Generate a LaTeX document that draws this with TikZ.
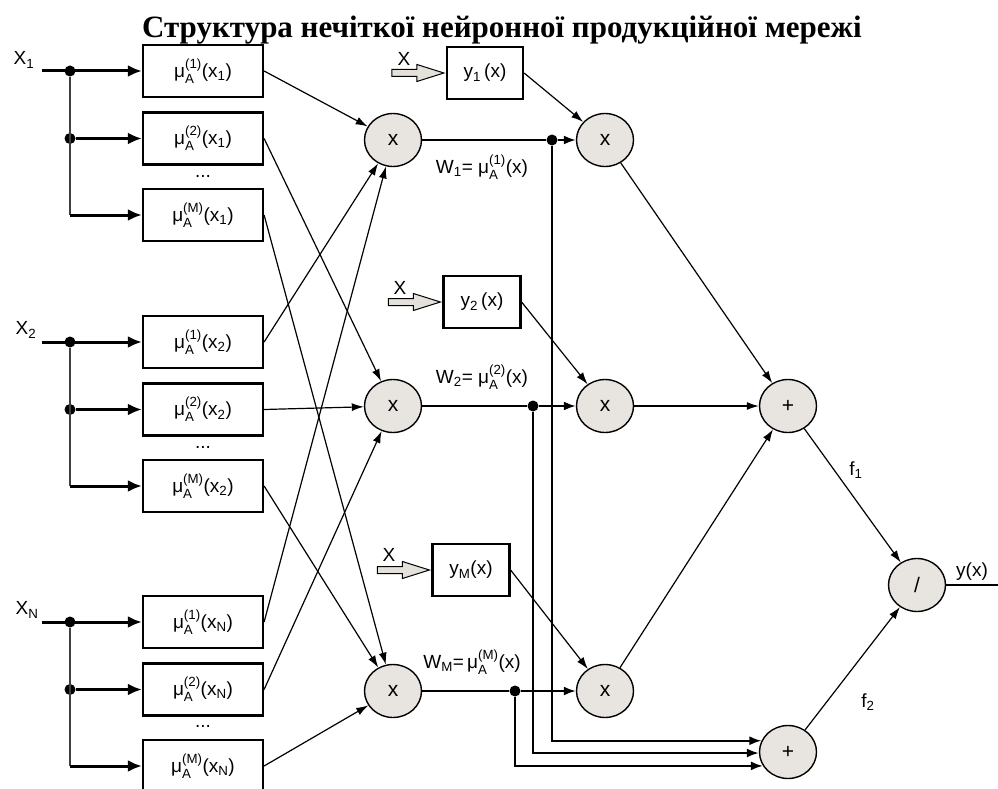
\documentclass[tikz,border=0pt]{standalone}
\usepackage{fontspec}
\usepackage{amsmath}
\setmainfont{Liberation Sans}
\newfontfamily\titlefont{Liberation Serif}
\usetikzlibrary{arrows.meta,shapes.geometric}
\definecolor{nodefill}{RGB}{232,228,224}
\definecolor{arrowfill}{RGB}{228,224,218}
% membership function label: mu with stacked indices
\newcommand\mufn[3]{μ$^{\text{(#1)}}_{\text{A}}$(x$_{\text{#3}}$)}
\newcommand\wlabel[2]{μ$^{\text{(#1)}}_{\text{A}}$(x)}
% hollow block arrow ending at the west side of a node
\newcommand\inarrow[1]{\draw[fill=arrowfill,line width=1pt,line join=miter] ([xshift=-2pt]#1.west) -- ++(-27,-8.5) -- ++(0,5) -- ++(-25,0) -- ++(0,7) -- ++(25,0) -- ++(0,5) -- cycle;}
\tikzset{
  lbl/.style={font=\fontsize{19}{22}\selectfont, inner sep=0pt},
  mbox/.style={draw, line width=2.2pt, minimum width=120pt, minimum height=52pt, inner sep=0pt, font=\fontsize{19}{22}\selectfont},
  ybox/.style={draw, line width=2.2pt, minimum width=77pt, minimum height=52pt, inner sep=0pt, font=\fontsize{19}{22}\selectfont},
  op/.style={ellipse, draw, line width=1.4pt, fill=nodefill, minimum width=57pt, minimum height=53pt, inner sep=0pt, font=\fontsize{21}{24}\selectfont},
  dot/.style={circle, fill=black, minimum size=11pt, inner sep=0pt},
  feed/.style={line width=3pt, -{Latex[length=14pt,width=12pt]}},
  branch/.style={line width=1.6pt, draw=black!75},
  conn/.style={line width=1.2pt, -{Latex[length=12pt,width=8pt]}},
  wire/.style={line width=2pt, -{Latex[length=12pt,width=9pt]}},
}
\begin{document}
\begin{tikzpicture}[x=1pt,y=-1pt]
\useasboundingbox (0,0) rectangle (998,789);

% title
\node[anchor=base, font=\titlefont\bfseries\fontsize{31}{34}\selectfont, inner sep=0pt] (title) at (502,38) {Структура нечіткої нейронної продукційної мережі};

% fuzzification boxes
\foreach \g/\sub/\ya/\yb/\yc in {1/1/71/138.5/215, 2/2/342/409.5/486, 3/N/622/689.5/766}{
  \node[mbox] (b\g1) at (203,\ya) {\mufn{1}{A}{\sub}};
  \node[mbox] (b\g2) at (203,\yb) {\mufn{2}{A}{\sub}};
  \node[mbox] (b\g3) at (203,\yc) {\mufn{M}{A}{\sub}};
}
\node[lbl] (dots1) at (203,176) {...};
\node[lbl] (dots2) at (203,447) {...};
\node[lbl] (dots3) at (203,726) {...};

% inputs
\node[lbl] (x1) at (24,60) {X$_{\text{1}}$};
\node[lbl] (x2) at (26,330) {X$_{\text{2}}$};
\node[lbl] (x3) at (27,610) {X$_{\text{N}}$};
\foreach \g/\ya/\yb/\yc in {1/71/138.5/215, 2/342/409.5/486, 3/622/689.5/766}{
  \coordinate (s\g) at (42,\ya);
  \coordinate (c\g) at (70,\yc);
  \node[dot] (da\g) at (70,\ya) {};
  \node[dot] (db\g) at (70,\yb) {};
  \draw[branch] (da\g) -- (c\g);
  \draw[feed] (s\g) -- (b\g1);
  \draw[feed] (db\g) -- (b\g2);
  \draw[feed] (c\g) -- (b\g3);
}

% rule products
\node[op] (p1) at (393,140) {x};
\node[op] (p2) at (393,406) {x};
\node[op] (p3) at (393,691) {x};
\node[op] (q1) at (605,140) {x};
\node[op] (q2) at (605,406) {x};
\node[op] (q3) at (605,691) {x};
\node[op] (sum1) at (788,406) {+};
\node[op] (sum2) at (788,752) {+};
\node[op] (div) at (917,585) {/};

% box -> product connections
\foreach \g in {1,2,3}{
  \draw[conn] (b\g1.east) -- (p1);
  \draw[conn] (b\g2.east) -- (p2);
  \draw[conn] (b\g3.east) -- (p3);
}

% consequent functions
\node[ybox, minimum width=76pt] (y1) at (485,73) {y$_{\text{1}}$\,(x)};
\node[ybox] (y2) at (482,302) {y$_{\text{2}}$\,(x)};
\node[ybox] (y3) at (471,570) {y$_{\text{M}}$(x)};
\inarrow{y1}
\inarrow{y2}
\inarrow{y3}
\node[lbl] (xa) at (404,59) {X};
\node[lbl] (xb) at (400,288) {X};
\node[lbl] (xc) at (389,555) {X};
\draw[conn] (y1.east) -- (q1);
\draw[conn] (y2.east) -- (q2);
\draw[conn] (y3.east) -- (q3);

% weights
\node[dot] (w1) at (552,140) {};
\node[dot] (w2) at (533,406) {};
\node[dot] (w3) at (515,691) {};
\draw[line width=2pt] (p1) -- (w1);
\draw[line width=2pt] (p2) -- (w2);
\draw[line width=2pt] (p3) -- (w3);
\draw[wire] (w1) -- (q1);
\draw[wire] (w2) -- (q2);
\draw[wire] (w3) -- (q3);
\node[lbl] (wl1) at (482,167) {W$_{\text{1}}$= \wlabel{1}{A}};
\node[lbl] (wl2) at (482,377) {W$_{\text{2}}$= \wlabel{2}{A}};
\node[lbl] (wl3) at (472,662) {W$_{\text{M}}$=\,\wlabel{M}{A}};

% numerator and denominator sums
\draw[conn] (q1) -- (sum1);
\draw[conn] (q2) -- (sum1);
\draw[conn] (q3) -- (sum1);
\draw[wire] (w1) |- (sum2.157);
\draw[wire] (w2) |- (sum2.182);
\draw[wire] (w3) |- (sum2.209);

% division and output
\draw[conn] (sum1) -- (div);
\draw[conn] (sum2) -- (div);
\node[lbl] (f1) at (856,470) {f$_{\text{1}}$};
\node[lbl] (f2) at (868,702) {f$_{\text{2}}$};
\coordinate (out) at (1000,585);
\draw[line width=2pt] (div) -- (out);
\node[lbl] (yx) at (972,572) {y(x)};
\end{tikzpicture}
\end{document}
